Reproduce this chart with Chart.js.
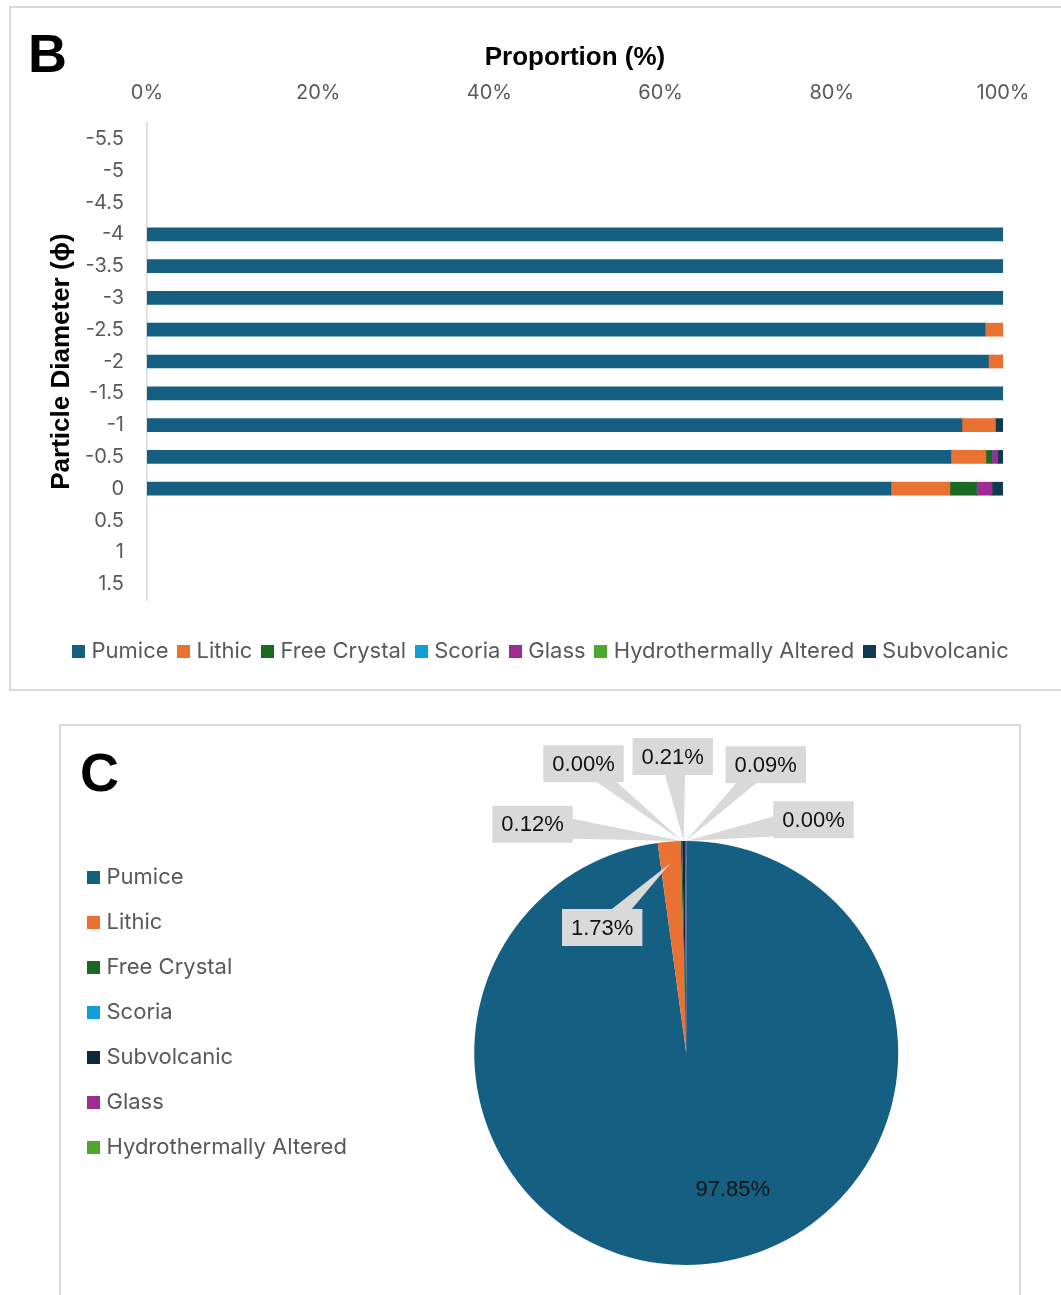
<!DOCTYPE html>
<html>
<head>
<meta charset="utf-8">
<script src="https://cdn.jsdelivr.net/npm/chart.js@4.4.0/dist/chart.umd.min.js"></script>
<style>
html,body{margin:0;padding:0;background:#fff;overflow:hidden;width:1061px;height:1295px;}
#panelB{position:absolute;left:9px;top:6px;width:1070px;height:685px;border:2px solid #D9D9D9;box-sizing:border-box;}
#panelC{position:absolute;left:59px;top:724px;width:962px;height:620px;border:2px solid #D9D9D9;box-sizing:border-box;}
#wrapB{position:absolute;left:0;top:0;width:1061px;height:700px;}
#wrapC{position:absolute;left:0;top:700px;width:1061px;height:595px;}
</style>
</head>
<body>
<div id="panelB"></div>
<div id="panelC"></div>
<div id="wrapB"><canvas id="chartB"></canvas></div>
<div id="wrapC"><canvas id="chartC"></canvas></div>
<script>
// ---------- Data: panel B (stacked proportions by particle diameter) ----------
const diameters = ['-5.5','-5','-4.5','-4','-3.5','-3','-2.5','-2','-1.5','-1','-0.5','0','0.5','1','1.5'];
const pumice      = [null,null,null,100,100,100,97.9,98.3,100,95.2,93.9,86.9,null,null,null];
const lithic      = [null,null,null,0,0,0,2.1,1.7,0,3.9,4.1,6.9,null,null,null];
const freeCrystal = [null,null,null,0,0,0,0,0,0,0,0.7,3.1,null,null,null];
const scoria      = [null,null,null,0,0,0,0,0,0,0,0,0,null,null,null];
const glass       = [null,null,null,0,0,0,0,0,0,0,0.65,1.8,null,null,null];
const hydroAlt    = [null,null,null,0,0,0,0,0,0,0,0,0,null,null,null];
const subvolcanic = [null,null,null,0,0,0,0,0,0,0.9,0.65,1.3,null,null,null];
const xTicks = [0,20,40,60,80,100];

// ---------- Data: panel C (overall composition) ----------
const pieLabels = ['Pumice','Lithic','Free Crystal','Scoria','Subvolcanic','Glass','Hydrothermally Altered'];
const pieValues = [97.85,1.73,0.12,0.00,0.21,0.09,0.00];

// ---------- Styles ----------
const colors = {
  'Pumice':'#156082','Lithic':'#E97132','Free Crystal':'#196B24','Scoria':'#0F9ED5',
  'Glass':'#A02B93','Hydrothermally Altered':'#4EA72E','Subvolcanic':'#0F3A52'
};
const pieColors = Object.assign({}, colors, {'Subvolcanic':'#0E2841'});
const GREY = '#595959';
const SANS = 'Inter';

// square legend marker drawn as an image so the gap to the text stays small
function square(color){
  const c = document.createElement('canvas'); c.width = 13; c.height = 13;
  const g = c.getContext('2d'); g.fillStyle = color; g.fillRect(0,0,13,13); return c;
}
function withSquares(base){
  return chart => base(chart).map(l => Object.assign(l, {pointStyle: square(l.fillStyle)}));
}

const letterPlugin = {
  id:'panelLetter',
  afterDraw(chart, args, o){
    if(!o || !o.text) return;
    const c = chart.ctx; c.save();
    c.font = 'bold 54px "Liberation Sans", Arial, sans-serif';
    c.fillStyle = '#000'; c.textAlign = 'left'; c.textBaseline = 'alphabetic';
    c.fillText(o.text, o.x, o.y); c.restore();
  }
};
const shiftLegend = {
  id:'shiftLegend',
  afterLayout(chart, args, o){
    if(chart.legend && o){ chart.legend.left += (o.dx||0); chart.legend.right += (o.dx||0);
      chart.legend.top += (o.dy||0); chart.legend.bottom += (o.dy||0); }
  }
};

// ---------- Chart B ----------
const seriesB = [
  ['Pumice', pumice], ['Lithic', lithic], ['Free Crystal', freeCrystal], ['Scoria', scoria],
  ['Glass', glass], ['Hydrothermally Altered', hydroAlt], ['Subvolcanic', subvolcanic]
];
new Chart(document.getElementById('chartB'), {
  type:'bar',
  data:{
    labels: diameters,
    datasets: seriesB.map(([name, vals]) => ({
      label:name, data:vals, backgroundColor:colors[name], borderWidth:0,
      barThickness:13, borderSkipped:false
    }))
  },
  plugins:[letterPlugin, shiftLegend],
  options:{
    indexAxis:'y', responsive:true, maintainAspectRatio:false, animation:false,
    layout:{padding:{left:0,right:58,top:0,bottom:28}},
    scales:{
      x:{
        type:'linear', position:'top', stacked:true, min:0, max:100,
        afterBuildTicks(s){ s.ticks = xTicks.map(v => ({value:v})); },
        afterFit(s){ s.height = 123; },
        grid:{display:false, drawTicks:false}, border:{display:false},
        ticks:{ callback:v => v + '%', font:{family:SANS,size:20}, color:GREY, padding:18, maxRotation:0 },
        title:{ display:true, text:'Proportion (%)', color:'#000',
          font:{family:'"Liberation Sans", Arial, sans-serif', size:26, weight:'bold'}, padding:{top:42,bottom:0} }
      },
      y:{
        type:'category', stacked:true, offset:true,
        afterFit(s){ s.width = 147; },
        grid:{display:false, drawTicks:false},
        border:{display:true, color:'#D9D9D9', width:1.5},
        ticks:{ font:{family:SANS,size:20}, color:GREY, padding:23, autoSkip:false },
        title:{ display:true, text:'Particle Diameter (ϕ)', color:'#000',
          font:{family:'"Liberation Sans", Arial, sans-serif', size:26, weight:'bold'}, padding:{top:46,bottom:0} }
      }
    },
    plugins:{
      legend:{
        position:'bottom', align:'start',
        title:{display:true, text:'', font:{size:10}, padding:{top:15,bottom:0}},
        labels:{ font:{family:SANS,size:22}, color:GREY, boxWidth:13, boxHeight:13, padding:13,
          usePointStyle:true, pointStyleWidth:4,
          generateLabels: withSquares(Chart.defaults.plugins.legend.labels.generateLabels) }
      },
      tooltip:{enabled:false},
      panelLetter:{text:'B', x:28, y:72},
      shiftLegend:{dx:63.5, dy:0}
    }
  }
});

// ---------- Chart C ----------
const calloutPlugin = {
  id:'callouts',
  afterDatasetsDraw(chart, args, o){
    const ctx = chart.ctx;
    const meta = chart.getDatasetMeta(0);
    const vals = chart.data.datasets[0].data;
    ctx.save();
    ctx.font = o.font; ctx.textAlign = 'center'; ctx.textBaseline = 'middle';
    meta.data.forEach((arc, i) => {
      const cfg = o.items[i]; if(!cfg) return;
      const p = arc.getProps(['x','y','startAngle','endAngle','outerRadius'], true);
      const mid = (p.startAngle + p.endAngle) / 2;
      const tx = p.x + Math.cos(mid) * p.outerRadius * cfg.anchor;
      const ty = p.y + Math.sin(mid) * p.outerRadius * cfg.anchor;
      const cx = p.x + cfg.dx, cy = p.y + cfg.dy;
      const text = vals[i].toFixed(2) + '%';
      if(cfg.box){
        const w = ctx.measureText(text).width + 2 * o.padX, h = o.boxH;
        const l = cx - w/2, t = cy - h/2;
        const dx = tx - cx, dy = ty - cy;
        const s = Math.min((w/2) / Math.max(Math.abs(dx),1e-6), (h/2) / Math.max(Math.abs(dy),1e-6));
        const px = cx + dx * s, py = cy + dy * s;
        const hw = o.wedge;
        let b1, b2;
        if(Math.abs(dx) * (h/2) > Math.abs(dy) * (w/2)){
          const a = Math.max(t, py - hw), b = Math.min(t + h, py + hw);
          b1 = [px, a]; b2 = [px, b];
        } else {
          const a = Math.max(l, px - hw), b = Math.min(l + w, px + hw);
          b1 = [a, py]; b2 = [b, py];
        }
        ctx.fillStyle = o.boxColor;
        ctx.beginPath(); ctx.moveTo(b1[0], b1[1]); ctx.lineTo(tx, ty); ctx.lineTo(b2[0], b2[1]);
        ctx.lineTo(cx, cy); ctx.closePath(); ctx.fill();
        ctx.fillRect(l, t, w, h);
      }
      ctx.fillStyle = o.color;
      ctx.fillText(text, cx, cy + 1);
    });
    ctx.restore();
  }
};

new Chart(document.getElementById('chartC'), {
  type:'pie',
  data:{
    labels: pieLabels,
    datasets:[{ data: pieValues, backgroundColor: pieLabels.map(n => pieColors[n]), borderWidth:0, hoverOffset:0, offset:0 }]
  },
  plugins:[letterPlugin, calloutPlugin],
  options:{
    responsive:true, maintainAspectRatio:false, animation:false,
    layout:{padding:{left:68.5,right:45.5,top:141,bottom:30}},
    plugins:{
      legend:{
        position:'left', align:'start',
        title:{display:true, text:'', font:{size:1}, padding:{top:1,bottom:0}},
        labels:{ font:{family:SANS,size:22}, color:GREY, boxWidth:13, boxHeight:13, padding:23,
          usePointStyle:true, pointStyleWidth:4,
          generateLabels: withSquares(Chart.overrides.pie.plugins.legend.labels.generateLabels) }
      },
      tooltip:{enabled:false},
      panelLetter:{text:'C', x:80, y:91},
      callouts:{
        font:'22px "Liberation Sans", Arial, sans-serif', color:'#111', boxColor:'#D9D9D9',
        padX:9, boxH:37, wedge:10,
        items:[
          {dx:46.5, dy:136, anchor:0.5, box:false},
          {dx:-84, dy:-125.5, anchor:0.9, box:true},
          {dx:-153.7, dy:-228.7, anchor:1, box:true},
          {dx:-102.7, dy:-289.3, anchor:1, box:true},
          {dx:-13.5, dy:-296.5, anchor:1, box:true},
          {dx:79.5, dy:-288.3, anchor:1, box:true},
          {dx:127.3, dy:-233.3, anchor:1, box:true}
        ]
      }
    }
  }
});
</script>
</body>
</html>
